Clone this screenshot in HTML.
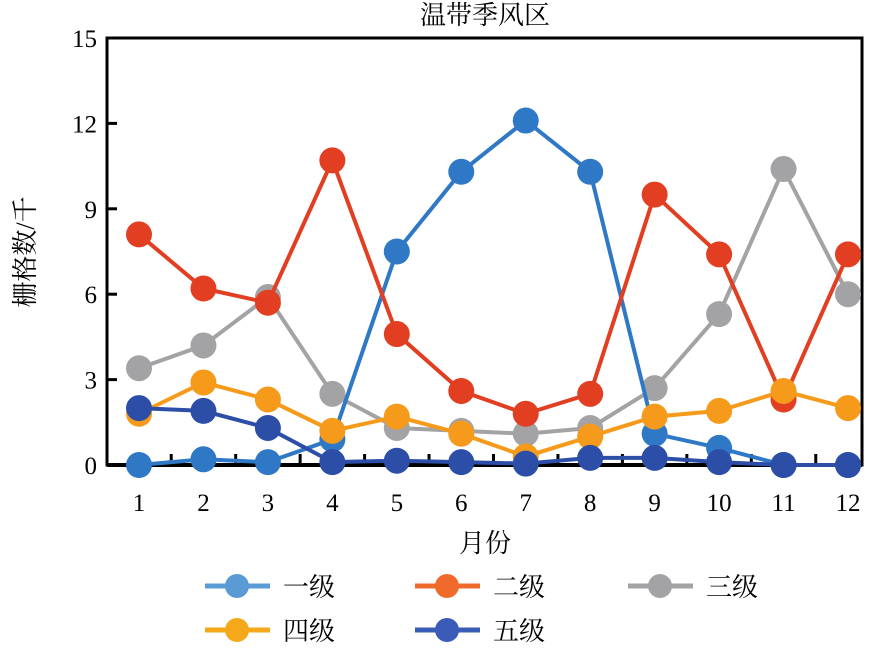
<!DOCTYPE html>
<html><head><meta charset="utf-8"><style>
body{margin:0;background:#fff;}
text{font-family:"Liberation Serif","Noto Serif CJK SC",serif;fill:#000;}
</style></head><body>
<svg id="chart" width="885" height="650" xmlns="http://www.w3.org/2000/svg">
<text x="485" y="24" font-size="26" text-anchor="middle">温带季风区</text>
<text transform="translate(34,252) rotate(-90)" font-size="26" text-anchor="middle">栅格数/千</text>
<text x="485" y="552" font-size="26" text-anchor="middle">月份</text>
<g id="axes"></g><g id="series"></g><g id="legend"></g>
</svg>
<script>
const months=[1,2,3,4,5,6,7,8,9,10,11,12];
const yTicks=[0,3,6,9,12,15];
const seriesNames=["一级","二级","三级","四级","五级"];
const s1=[0,0.2,0.1,0.9,7.5,10.3,12.1,10.3,1.1,0.6,0,0];
const s2=[8.1,6.2,5.7,10.7,4.6,2.6,1.8,2.5,9.5,7.4,2.3,7.4];
const s3=[3.4,4.2,5.9,2.5,1.3,1.2,1.1,1.3,2.7,5.3,10.4,6.0];
const s4=[1.8,2.9,2.3,1.2,1.7,1.1,0.3,1.0,1.7,1.9,2.6,2.0];
const s5=[2.0,1.9,1.3,0.1,0.15,0.1,0.05,0.25,0.25,0.1,0,0];
const NS="http://www.w3.org/2000/svg";
const L=107,R=862,T=38,B=465;
const x=m=>139+(m-1)*(848-139)/11;
const y=v=>B-(v/15)*(B-T);
function mk(t,a,p){const e=document.createElementNS(NS,t);for(const k in a)e.setAttribute(k,a[k]);p.appendChild(e);return e;}
const ax=document.getElementById('axes');
const frame=mk('rect',{x:L,y:T,width:R-L,height:B-T,fill:'none',stroke:'#000','stroke-width':3},ax);


yTicks.forEach(v=>{
 const t=mk('line',{x1:L,x2:L+10,y1:y(v),y2:y(v),stroke:'#000','stroke-width':3},ax);
 
 
 const tx=mk('text',{x:L-10,y:y(v)+9,'font-size':25,'text-anchor':'end'},ax);
 tx.textContent=v;
 
 
});
const base=mk('line',{x1:L,x2:R,y1:B,y2:B,stroke:'#000','stroke-width':4},ax);


months.forEach((m,i)=>{
 if(i<months.length-1){const t=mk('line',{x1:x(m+0.5),x2:x(m+0.5),y1:B,y2:B-11,stroke:'#000','stroke-width':3},ax);
 
 }
 const tx=mk('text',{x:x(m),y:B+46,'font-size':25,'text-anchor':'middle'},ax);
 tx.textContent=m;
 
 
});
const data=[s1,s2,s3,s4,s5];
const lineCol=["#2e78c6","#e23e22","#a3a3a5","#f59a1a","#2c4ea6"];
const legCol=["#5b9bd5","#f06a2c","#a3a3a5","#f5a81a","#3a5bb8"];
const order=[2,0,1,3,4];
const sg=document.getElementById('series');
order.forEach(k=>{
 const g=mk('g',{},sg);
 
 
 const pl=mk('polyline',{points:data[k].map((v,i)=>x(months[i])+','+y(v)).join(' '),fill:'none',stroke:lineCol[k],'stroke-width':4},g);
 
 
 data[k].forEach((v,i)=>{
  const c=mk('circle',{cx:x(months[i]),cy:y(v),r:13,fill:lineCol[k]},g);
  
  
 });
});
const lg=document.getElementById('legend');
const pos=[[205,586],[415,586],[628,586],[205,630],[415,630]];
seriesNames.forEach((n,k)=>{
 const g=mk('g',{},lg);
 
 
 const [lx,ly]=pos[k];
 mk('line',{x1:lx,x2:lx+65,y1:ly,y2:ly,stroke:legCol[k],'stroke-width':5},g);
 mk('circle',{cx:lx+32,cy:ly,r:12,fill:legCol[k]},g);
 const t=mk('text',{x:lx+78,y:ly+10,'font-size':26},g);
 t.textContent=n;
});
</script>
</body></html>
